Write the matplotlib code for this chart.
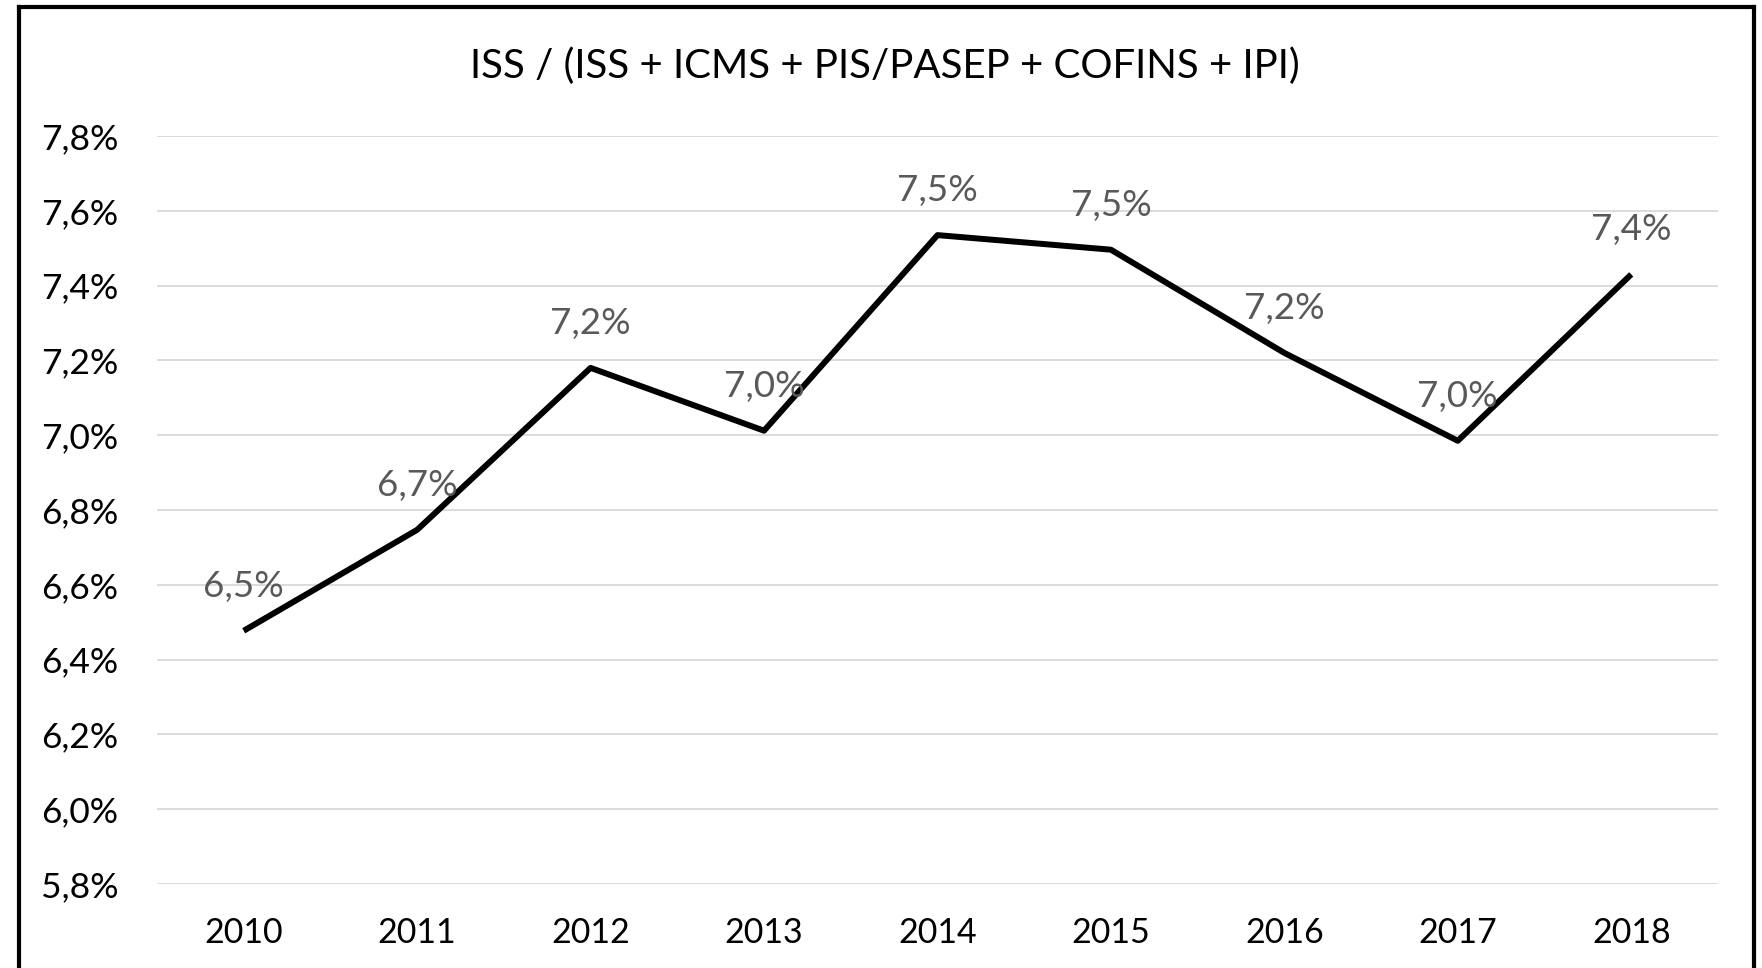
import matplotlib
matplotlib.use("Agg")
import matplotlib.pyplot as plt
from matplotlib.lines import Line2D

plt.rcParams['font.family'] = ['Lato', 'DejaVu Sans']

# dados
anos = ['2010', '2011', '2012', '2013', '2014', '2015', '2016', '2017', '2018']
iss_share = [6.477, 6.747, 7.18, 7.012, 7.535, 7.496, 7.22, 6.985, 7.43]
y_ticks = [5.8, 6.0, 6.2, 6.4, 6.6, 6.8, 7.0, 7.2, 7.4, 7.6, 7.8]
titulo = "ISS / (ISS + ICMS + PIS/PASEP + COFINS + IPI)"


def pct_br(v):
    return ("%.1f%%" % v).replace(".", ",")


fig = plt.figure(figsize=(17.62, 9.68), dpi=100)
ax = fig.add_axes([0.0891, 0.0868, 0.975 - 0.0891, 0.8595 - 0.0868])

x = list(range(len(anos)))
ax.plot(x, iss_share, color='black', linewidth=4.3, solid_capstyle='butt', zorder=3)

for xi, v in zip(x, iss_share):
    ax.annotate(pct_br(v), (xi, v), xytext=(0, 32), textcoords='offset points',
                ha='center', va='center', fontsize=26.5, color='#595959', zorder=4)

ax.set_xlim(-0.5, len(anos) - 0.5)
ax.set_ylim(5.8, 7.8)
ax.set_xticks(x)
ax.set_xticklabels(anos)
ax.set_yticks(y_ticks)
ax.set_yticklabels([pct_br(t) for t in y_ticks])
ax.tick_params(axis='both', length=0, colors='black')
ax.tick_params(axis='y', pad=28, labelsize=25.5)
ax.tick_params(axis='x', pad=24, labelsize=24.5)
ax.grid(axis='y', color='#d9d9d9', linewidth=1.3)
ax.set_axisbelow(True)
for s in ax.spines.values():
    s.set_visible(False)

fig.text(0.502, 1 - 66 / 968, titulo, ha='center', va='center', fontsize=29, color='black')

# moldura do grafico (cortada em baixo)
lw = 3
fig.add_artist(Line2D([19 / 1762, 19 / 1762], [0, 1 - 6.5 / 968], color='black', linewidth=lw))
fig.add_artist(Line2D([1754 / 1762, 1754 / 1762], [0, 1 - 6.5 / 968], color='black', linewidth=lw))
fig.add_artist(Line2D([19 / 1762, 1754 / 1762], [1 - 6.5 / 968, 1 - 6.5 / 968], color='black', linewidth=lw,
                      solid_capstyle='projecting'))

fig.savefig("out.png", dpi=100)
